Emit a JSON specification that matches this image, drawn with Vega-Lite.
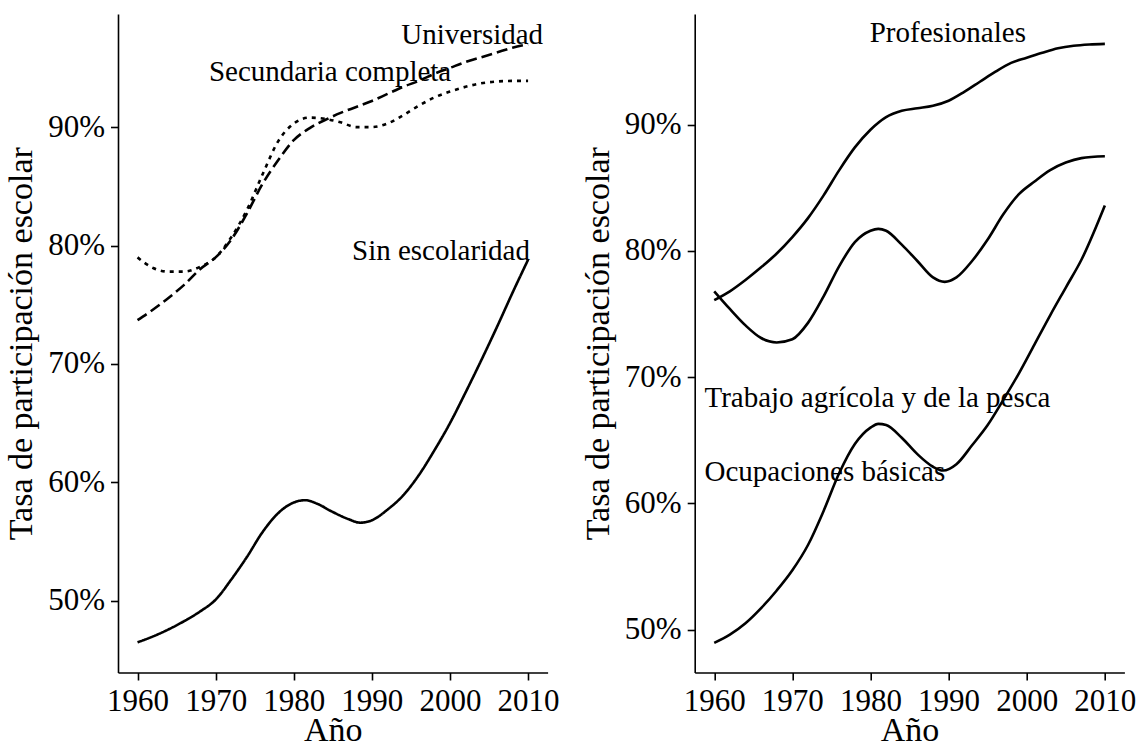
{
  "$schema": "https://vega.github.io/schema/vega-lite/v6.json",
  "background": "white",
  "padding": {"left": 4, "top": 14, "right": 0, "bottom": 0},
  "bounds": "flush",
  "spacing": 146.7,
  "config": {
    "font": "Liberation Serif",
    "view": {"stroke": null},
    "axis": {
      "domainColor": "black", "domainWidth": 1.6,
      "tickColor": "black", "tickWidth": 1.6, "tickSize": 7.5,
      "labelFont": "Liberation Serif", "labelFontSize": 31, "labelColor": "black", "labelPadding": 6,
      "titleFont": "Liberation Serif", "titleFontSize": 34, "titleFontWeight": "normal", "titleColor": "black",
      "grid": false
    },
    "axisX": {"titlePadding": -3},
    "axisY": {"titlePadding": 9}
  },
  "resolve": {"scale": {"x": "independent", "y": "independent"}},
  "datasets": {
    "izquierda": [
      {"serie": "Sin escolaridad", "anio": 1960, "tasa": 0.465},
      {"serie": "Sin escolaridad", "anio": 1962, "tasa": 0.470},
      {"serie": "Sin escolaridad", "anio": 1964, "tasa": 0.476},
      {"serie": "Sin escolaridad", "anio": 1966, "tasa": 0.483},
      {"serie": "Sin escolaridad", "anio": 1968, "tasa": 0.491},
      {"serie": "Sin escolaridad", "anio": 1970, "tasa": 0.501},
      {"serie": "Sin escolaridad", "anio": 1972, "tasa": 0.518},
      {"serie": "Sin escolaridad", "anio": 1974, "tasa": 0.537},
      {"serie": "Sin escolaridad", "anio": 1976, "tasa": 0.558},
      {"serie": "Sin escolaridad", "anio": 1978, "tasa": 0.574},
      {"serie": "Sin escolaridad", "anio": 1980, "tasa": 0.583},
      {"serie": "Sin escolaridad", "anio": 1981.5, "tasa": 0.585},
      {"serie": "Sin escolaridad", "anio": 1983, "tasa": 0.582},
      {"serie": "Sin escolaridad", "anio": 1985, "tasa": 0.575},
      {"serie": "Sin escolaridad", "anio": 1987, "tasa": 0.569},
      {"serie": "Sin escolaridad", "anio": 1988.5, "tasa": 0.566},
      {"serie": "Sin escolaridad", "anio": 1990, "tasa": 0.568},
      {"serie": "Sin escolaridad", "anio": 1992, "tasa": 0.577},
      {"serie": "Sin escolaridad", "anio": 1994, "tasa": 0.589},
      {"serie": "Sin escolaridad", "anio": 1996, "tasa": 0.606},
      {"serie": "Sin escolaridad", "anio": 1998, "tasa": 0.627},
      {"serie": "Sin escolaridad", "anio": 2000, "tasa": 0.650},
      {"serie": "Sin escolaridad", "anio": 2002, "tasa": 0.676},
      {"serie": "Sin escolaridad", "anio": 2004, "tasa": 0.703},
      {"serie": "Sin escolaridad", "anio": 2006, "tasa": 0.731},
      {"serie": "Sin escolaridad", "anio": 2008, "tasa": 0.760},
      {"serie": "Sin escolaridad", "anio": 2010, "tasa": 0.788},
      {"serie": "Universidad", "anio": 1960, "tasa": 0.737},
      {"serie": "Universidad", "anio": 1962, "tasa": 0.746},
      {"serie": "Universidad", "anio": 1964, "tasa": 0.756},
      {"serie": "Universidad", "anio": 1966, "tasa": 0.767},
      {"serie": "Universidad", "anio": 1968, "tasa": 0.780},
      {"serie": "Universidad", "anio": 1970, "tasa": 0.790},
      {"serie": "Universidad", "anio": 1972, "tasa": 0.805},
      {"serie": "Universidad", "anio": 1974, "tasa": 0.827},
      {"serie": "Universidad", "anio": 1976, "tasa": 0.852},
      {"serie": "Universidad", "anio": 1978, "tasa": 0.872},
      {"serie": "Universidad", "anio": 1980, "tasa": 0.889},
      {"serie": "Universidad", "anio": 1982, "tasa": 0.899},
      {"serie": "Universidad", "anio": 1984, "tasa": 0.906},
      {"serie": "Universidad", "anio": 1986, "tasa": 0.912},
      {"serie": "Universidad", "anio": 1988, "tasa": 0.917},
      {"serie": "Universidad", "anio": 1990, "tasa": 0.922},
      {"serie": "Universidad", "anio": 1992, "tasa": 0.928},
      {"serie": "Universidad", "anio": 1994, "tasa": 0.934},
      {"serie": "Universidad", "anio": 1996, "tasa": 0.939},
      {"serie": "Universidad", "anio": 1998, "tasa": 0.945},
      {"serie": "Universidad", "anio": 2000, "tasa": 0.950},
      {"serie": "Universidad", "anio": 2002, "tasa": 0.955},
      {"serie": "Universidad", "anio": 2004, "tasa": 0.959},
      {"serie": "Universidad", "anio": 2006, "tasa": 0.963},
      {"serie": "Universidad", "anio": 2008, "tasa": 0.967},
      {"serie": "Universidad", "anio": 2010, "tasa": 0.970},
      {"serie": "Secundaria completa", "anio": 1960, "tasa": 0.790},
      {"serie": "Secundaria completa", "anio": 1962, "tasa": 0.781},
      {"serie": "Secundaria completa", "anio": 1964, "tasa": 0.778},
      {"serie": "Secundaria completa", "anio": 1966, "tasa": 0.778},
      {"serie": "Secundaria completa", "anio": 1968, "tasa": 0.782},
      {"serie": "Secundaria completa", "anio": 1970, "tasa": 0.790},
      {"serie": "Secundaria completa", "anio": 1972, "tasa": 0.807},
      {"serie": "Secundaria completa", "anio": 1974, "tasa": 0.830},
      {"serie": "Secundaria completa", "anio": 1976, "tasa": 0.860},
      {"serie": "Secundaria completa", "anio": 1978, "tasa": 0.888},
      {"serie": "Secundaria completa", "anio": 1980, "tasa": 0.903},
      {"serie": "Secundaria completa", "anio": 1982, "tasa": 0.908},
      {"serie": "Secundaria completa", "anio": 1984, "tasa": 0.907},
      {"serie": "Secundaria completa", "anio": 1986, "tasa": 0.904},
      {"serie": "Secundaria completa", "anio": 1988, "tasa": 0.900},
      {"serie": "Secundaria completa", "anio": 1990, "tasa": 0.900},
      {"serie": "Secundaria completa", "anio": 1992, "tasa": 0.903},
      {"serie": "Secundaria completa", "anio": 1994, "tasa": 0.910},
      {"serie": "Secundaria completa", "anio": 1996, "tasa": 0.918},
      {"serie": "Secundaria completa", "anio": 1998, "tasa": 0.925},
      {"serie": "Secundaria completa", "anio": 2000, "tasa": 0.930},
      {"serie": "Secundaria completa", "anio": 2002, "tasa": 0.934},
      {"serie": "Secundaria completa", "anio": 2004, "tasa": 0.937},
      {"serie": "Secundaria completa", "anio": 2006, "tasa": 0.9385},
      {"serie": "Secundaria completa", "anio": 2008, "tasa": 0.939},
      {"serie": "Secundaria completa", "anio": 2010, "tasa": 0.939}
    ],
    "derecha": [
      {"serie": "Profesionales", "anio": 1960, "tasa": 0.761},
      {"serie": "Profesionales", "anio": 1962, "tasa": 0.768},
      {"serie": "Profesionales", "anio": 1964, "tasa": 0.777},
      {"serie": "Profesionales", "anio": 1966, "tasa": 0.787},
      {"serie": "Profesionales", "anio": 1968, "tasa": 0.798},
      {"serie": "Profesionales", "anio": 1970, "tasa": 0.811},
      {"serie": "Profesionales", "anio": 1972, "tasa": 0.826},
      {"serie": "Profesionales", "anio": 1974, "tasa": 0.844},
      {"serie": "Profesionales", "anio": 1976, "tasa": 0.864},
      {"serie": "Profesionales", "anio": 1978, "tasa": 0.882},
      {"serie": "Profesionales", "anio": 1980, "tasa": 0.896},
      {"serie": "Profesionales", "anio": 1982, "tasa": 0.906},
      {"serie": "Profesionales", "anio": 1984, "tasa": 0.911},
      {"serie": "Profesionales", "anio": 1986, "tasa": 0.913},
      {"serie": "Profesionales", "anio": 1988, "tasa": 0.915},
      {"serie": "Profesionales", "anio": 1990, "tasa": 0.919},
      {"serie": "Profesionales", "anio": 1992, "tasa": 0.926},
      {"serie": "Profesionales", "anio": 1994, "tasa": 0.934},
      {"serie": "Profesionales", "anio": 1996, "tasa": 0.942},
      {"serie": "Profesionales", "anio": 1998, "tasa": 0.949},
      {"serie": "Profesionales", "anio": 2000, "tasa": 0.953},
      {"serie": "Profesionales", "anio": 2002, "tasa": 0.957},
      {"serie": "Profesionales", "anio": 2004, "tasa": 0.9605},
      {"serie": "Profesionales", "anio": 2006, "tasa": 0.9625},
      {"serie": "Profesionales", "anio": 2008, "tasa": 0.9635},
      {"serie": "Profesionales", "anio": 2010, "tasa": 0.964},
      {"serie": "Trabajo agrícola y de la pesca", "anio": 1960, "tasa": 0.768},
      {"serie": "Trabajo agrícola y de la pesca", "anio": 1962, "tasa": 0.754},
      {"serie": "Trabajo agrícola y de la pesca", "anio": 1964, "tasa": 0.741},
      {"serie": "Trabajo agrícola y de la pesca", "anio": 1966, "tasa": 0.731},
      {"serie": "Trabajo agrícola y de la pesca", "anio": 1968, "tasa": 0.7275},
      {"serie": "Trabajo agrícola y de la pesca", "anio": 1970, "tasa": 0.730},
      {"serie": "Trabajo agrícola y de la pesca", "anio": 1972, "tasa": 0.743},
      {"serie": "Trabajo agrícola y de la pesca", "anio": 1974, "tasa": 0.764},
      {"serie": "Trabajo agrícola y de la pesca", "anio": 1976, "tasa": 0.788},
      {"serie": "Trabajo agrícola y de la pesca", "anio": 1978, "tasa": 0.807},
      {"serie": "Trabajo agrícola y de la pesca", "anio": 1980, "tasa": 0.816},
      {"serie": "Trabajo agrícola y de la pesca", "anio": 1981, "tasa": 0.8175},
      {"serie": "Trabajo agrícola y de la pesca", "anio": 1982, "tasa": 0.816},
      {"serie": "Trabajo agrícola y de la pesca", "anio": 1984, "tasa": 0.805},
      {"serie": "Trabajo agrícola y de la pesca", "anio": 1986, "tasa": 0.792},
      {"serie": "Trabajo agrícola y de la pesca", "anio": 1988, "tasa": 0.779},
      {"serie": "Trabajo agrícola y de la pesca", "anio": 1989.5, "tasa": 0.7755},
      {"serie": "Trabajo agrícola y de la pesca", "anio": 1991, "tasa": 0.779},
      {"serie": "Trabajo agrícola y de la pesca", "anio": 1993, "tasa": 0.792},
      {"serie": "Trabajo agrícola y de la pesca", "anio": 1995, "tasa": 0.809},
      {"serie": "Trabajo agrícola y de la pesca", "anio": 1997, "tasa": 0.829},
      {"serie": "Trabajo agrícola y de la pesca", "anio": 1999, "tasa": 0.845},
      {"serie": "Trabajo agrícola y de la pesca", "anio": 2001, "tasa": 0.855},
      {"serie": "Trabajo agrícola y de la pesca", "anio": 2003, "tasa": 0.864},
      {"serie": "Trabajo agrícola y de la pesca", "anio": 2005, "tasa": 0.870},
      {"serie": "Trabajo agrícola y de la pesca", "anio": 2007, "tasa": 0.8735},
      {"serie": "Trabajo agrícola y de la pesca", "anio": 2010, "tasa": 0.875},
      {"serie": "Ocupaciones básicas", "anio": 1960, "tasa": 0.4895},
      {"serie": "Ocupaciones básicas", "anio": 1962, "tasa": 0.496},
      {"serie": "Ocupaciones básicas", "anio": 1964, "tasa": 0.505},
      {"serie": "Ocupaciones básicas", "anio": 1966, "tasa": 0.517},
      {"serie": "Ocupaciones básicas", "anio": 1968, "tasa": 0.531},
      {"serie": "Ocupaciones básicas", "anio": 1970, "tasa": 0.547},
      {"serie": "Ocupaciones básicas", "anio": 1972, "tasa": 0.567},
      {"serie": "Ocupaciones básicas", "anio": 1974, "tasa": 0.594},
      {"serie": "Ocupaciones básicas", "anio": 1976, "tasa": 0.624},
      {"serie": "Ocupaciones básicas", "anio": 1978, "tasa": 0.647},
      {"serie": "Ocupaciones básicas", "anio": 1980, "tasa": 0.660},
      {"serie": "Ocupaciones básicas", "anio": 1981, "tasa": 0.663},
      {"serie": "Ocupaciones básicas", "anio": 1982, "tasa": 0.662},
      {"serie": "Ocupaciones básicas", "anio": 1984, "tasa": 0.652},
      {"serie": "Ocupaciones básicas", "anio": 1986, "tasa": 0.639},
      {"serie": "Ocupaciones básicas", "anio": 1988, "tasa": 0.629},
      {"serie": "Ocupaciones básicas", "anio": 1989.3, "tasa": 0.626},
      {"serie": "Ocupaciones básicas", "anio": 1991, "tasa": 0.631},
      {"serie": "Ocupaciones básicas", "anio": 1993, "tasa": 0.646},
      {"serie": "Ocupaciones básicas", "anio": 1995, "tasa": 0.662},
      {"serie": "Ocupaciones básicas", "anio": 1997, "tasa": 0.682},
      {"serie": "Ocupaciones básicas", "anio": 1999, "tasa": 0.703},
      {"serie": "Ocupaciones básicas", "anio": 2001, "tasa": 0.726},
      {"serie": "Ocupaciones básicas", "anio": 2003, "tasa": 0.749},
      {"serie": "Ocupaciones básicas", "anio": 2005, "tasa": 0.771},
      {"serie": "Ocupaciones básicas", "anio": 2007, "tasa": 0.793},
      {"serie": "Ocupaciones básicas", "anio": 2010, "tasa": 0.836}
    ],
    "etiquetas_izquierda": [
      {"etiqueta": "Universidad", "anio": 2002.85, "tasa": 0.9704},
      {"etiqueta": "Secundaria completa", "anio": 1984.65, "tasa": 0.9389},
      {"etiqueta": "Sin escolaridad", "anio": 1998.85, "tasa": 0.7882}
    ],
    "etiquetas_derecha_centro": [
      {"etiqueta": "Profesionales", "anio": 1989.9, "tasa": 0.9659}
    ],
    "etiquetas_derecha_izquierda": [
      {"etiqueta": "Trabajo agrícola y de la pesca", "anio": 1958.75, "tasa": 0.676},
      {"etiqueta": "Ocupaciones básicas", "anio": 1958.75, "tasa": 0.618}
    ]
  },
  "hconcat": [
    {
      "width": 429.6,
      "height": 658.5,
      "layer": [
        {
          "data": {"name": "izquierda"},
          "mark": {"type": "line", "interpolate": "monotone", "strokeWidth": 2.6, "color": "black"},
          "encoding": {
            "x": {"field": "anio", "type": "quantitative",
                  "scale": {"domain": [1957.5, 2012.5], "nice": false, "zero": false},
                  "axis": {"values": [1960, 1970, 1980, 1990, 2000, 2010], "format": "d", "title": "Año"}},
            "y": {"field": "tasa", "type": "quantitative",
                  "scale": {"domain": [0.4395, 0.9955], "nice": false, "zero": false},
                  "axis": {"values": [0.5, 0.6, 0.7, 0.8, 0.9], "format": ".0%", "title": "Tasa de participación escolar"}},
            "strokeDash": {"field": "serie", "type": "nominal",
                  "scale": {"domain": ["Universidad", "Secundaria completa", "Sin escolaridad"], "range": [[11, 5], [4, 5], [1, 0]]},
                  "legend": null}
          }
        },
        {
          "data": {"name": "etiquetas_izquierda"},
          "mark": {"type": "text", "fontSize": 29, "align": "center", "baseline": "alphabetic", "font": "Liberation Serif", "color": "black"},
          "encoding": {
            "x": {"field": "anio", "type": "quantitative"},
            "y": {"field": "tasa", "type": "quantitative"},
            "text": {"field": "etiqueta", "type": "nominal"}
          }
        }
      ]
    },
    {
      "width": 429.7,
      "height": 658.5,
      "layer": [
        {
          "data": {"name": "derecha"},
          "mark": {"type": "line", "interpolate": "monotone", "strokeWidth": 2.6, "color": "black"},
          "encoding": {
            "x": {"field": "anio", "type": "quantitative",
                  "scale": {"domain": [1957.5, 2012.5], "nice": false, "zero": false},
                  "axis": {"values": [1960, 1970, 1980, 1990, 2000, 2010], "format": "d", "title": "Año"}},
            "y": {"field": "tasa", "type": "quantitative",
                  "scale": {"domain": [0.466, 0.9877], "nice": false, "zero": false},
                  "axis": {"values": [0.5, 0.6, 0.7, 0.8, 0.9], "format": ".0%", "title": "Tasa de participación escolar"}},
            "detail": {"field": "serie", "type": "nominal"}
          }
        },
        {
          "data": {"name": "etiquetas_derecha_centro"},
          "mark": {"type": "text", "fontSize": 29, "align": "center", "baseline": "alphabetic", "font": "Liberation Serif", "color": "black"},
          "encoding": {
            "x": {"field": "anio", "type": "quantitative"},
            "y": {"field": "tasa", "type": "quantitative"},
            "text": {"field": "etiqueta", "type": "nominal"}
          }
        },
        {
          "data": {"name": "etiquetas_derecha_izquierda"},
          "mark": {"type": "text", "fontSize": 29, "align": "left", "baseline": "alphabetic", "font": "Liberation Serif", "color": "black"},
          "encoding": {
            "x": {"field": "anio", "type": "quantitative"},
            "y": {"field": "tasa", "type": "quantitative"},
            "text": {"field": "etiqueta", "type": "nominal"}
          }
        }
      ]
    }
  ]
}
